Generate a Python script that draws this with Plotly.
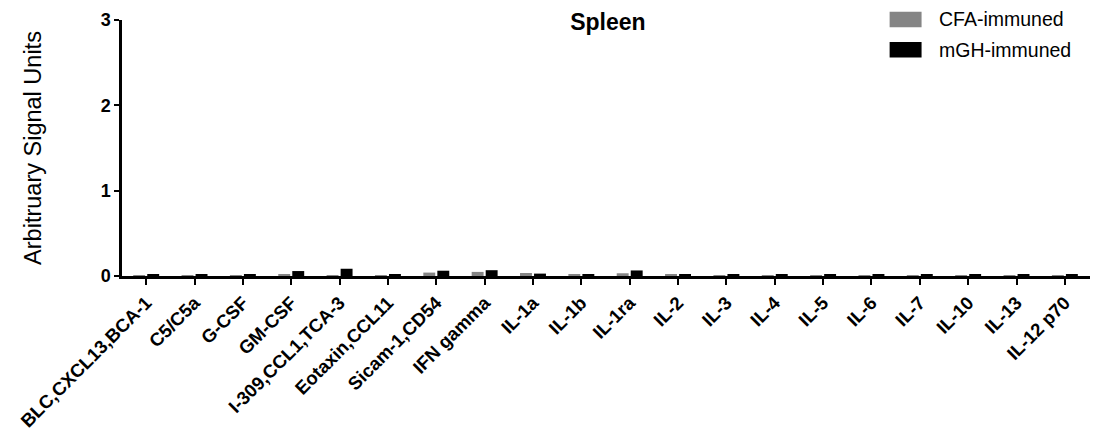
import plotly.graph_objects as go

categories = ["BLC,CXCL13,BCA-1", "C5/C5a", "G-CSF", "GM-CSF", "I-309,CCL1,TCA-3",
              "Eotaxin,CCL11", "Sicam-1,CD54", "IFN gamma", "IL-1a", "IL-1b", "IL-1ra",
              "IL-2", "IL-3", "IL-4", "IL-5", "IL-6", "IL-7", "IL-10", "IL-13", "IL-12 p70"]
cfa = [0.010, 0.010, 0.010, 0.020, 0.010, 0.010, 0.040, 0.048, 0.035, 0.012, 0.032,
       0.012, 0.010, 0.010, 0.010, 0.010, 0.010, 0.008, 0.008, 0.006]
mgh = [0.012, 0.018, 0.014, 0.058, 0.085, 0.012, 0.062, 0.068, 0.028, 0.020, 0.065,
       0.022, 0.022, 0.014, 0.012, 0.014, 0.018, 0.012, 0.016, 0.012]
y_ticks = [0, 1, 2, 3]
series_names = ["CFA-immuned", "mGH-immuned"]
series_colors = ["#858585", "#000000"]

FONT = "Liberation Sans, Arial, sans-serif"

fig = go.Figure()
for name, vals, col in zip(series_names, [cfa, mgh], series_colors):
    fig.add_trace(go.Bar(x=categories, y=vals, name=name, marker_color=col,
                         marker_line_width=0, showlegend=False))

# custom legend (large swatches like the original)
legend_y = [1.002, 0.884]
for name, col, yc in zip(series_names, series_colors, legend_y):
    fig.add_shape(type="rect", xref="paper", yref="paper",
                  x0=0.793, x1=0.826, y0=yc - 0.030, y1=yc + 0.030,
                  fillcolor=col, line_width=0)
    fig.add_annotation(xref="paper", yref="paper", x=0.842, y=yc, text=name,
                       showarrow=False, xanchor="left", yanchor="middle",
                       font=dict(size=19.5, family=FONT, color="black"))

fig.update_layout(
    width=1113, height=435,
    margin=dict(l=122, r=23, t=20, b=159, autoexpand=False),
    paper_bgcolor="white", plot_bgcolor="white",
    barmode="group", bargap=0.42, bargroupgap=0.15,
    font=dict(family=FONT, color="black"),
    title=dict(text="<b>Spleen</b>", x=0.502, xref="paper", y=1 - 22 / 435,
               yref="container", xanchor="center", yanchor="middle",
               font=dict(size=23)),
    showlegend=False,
)
fig.update_xaxes(
    type="category", range=[-0.5, 19.52], showline=True, linecolor="black", linewidth=2.5,
    ticks="outside", ticklen=6, tickwidth=2, tickcolor="black", tickangle=-45,
    tickvals=categories, ticktext=[f"<b>{c}</b>" for c in categories],
    tickfont=dict(size=18.5, family=FONT),
    showgrid=False, zeroline=False, automargin=False,
)
fig.update_yaxes(
    range=[0, 3], tickvals=y_ticks, ticktext=[f"<b>{v}</b>" for v in y_ticks],
    showline=True, linecolor="black", linewidth=2.5, ticks="outside", ticklen=5,
    tickwidth=2, tickcolor="black", tickfont=dict(size=18), showgrid=False, zeroline=False,
    title=dict(text="Arbitruary Signal Units", font=dict(size=23.5), standoff=53),
    automargin=False,
)

fig.write_html("out.html")
